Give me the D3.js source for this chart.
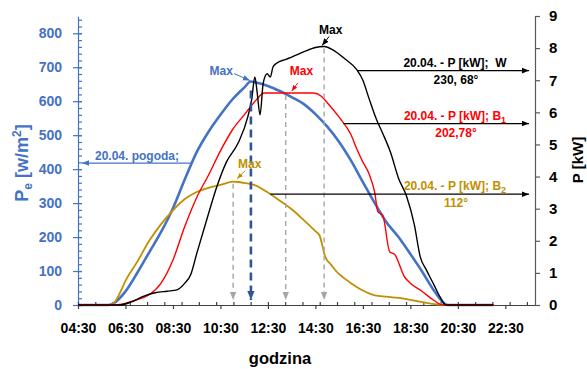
<!DOCTYPE html>
<html>
<head>
<meta charset="utf-8">
<script src="https://cdn.jsdelivr.net/npm/d3@7"></script>
<style>
body { margin: 0; background: #fff; }
svg text { font-family: "Liberation Sans", Arial, sans-serif; font-weight: bold; white-space: pre; }
</style>
</head>
<body>
<svg id="chart" width="587" height="369"></svg>
<script>
// ---- dane ----
// natezenie promieniowania (lewa os, W/m2)
var peTime  = ["4:30","5:45","6:00","6:30","7:00","7:30","8:00","8:30","9:00","9:30","10:00","10:30","11:00","11:30","11:47","12:00","12:30","13:00","13:30","14:00","14:30","15:00","15:30","16:00","16:30","17:00","17:30","18:00","18:30","19:00","19:30","20:05","22:00"];
var peValue = [0,0,5,40,95,155,215,285,370,450,510,560,605,640,658,655,645,630,612,592,562,525,480,425,362,300,243,200,150,98,42,0,0];

// moc W 230, 68 (prawa os, kW)
var wTime  = ["4:30","6:15","6:45","7:15","7:45","8:15","8:40","9:00","9:15","9:30","10:00","10:20","10:45","11:15","11:40","11:49","11:57","12:03","12:10","12:18","12:28","12:36","12:43","12:52","13:15","13:30","14:00","14:30","14:52","15:15","15:45","16:15","16:30","16:45","17:05","17:20","17:40","18:00","18:20","18:40","18:55","19:10","19:30","19:45","20:00","22:00"];
var wValue = [0,0,0.1,0.27,0.38,0.43,0.47,0.68,0.95,1.6,2.85,3.65,4.45,5.05,5.9,6.4,7.1,6.6,5.92,6.9,7.2,7.1,7.42,7.53,7.65,7.72,7.88,8.02,8.05,7.94,7.66,7.32,7.0,6.45,5.76,5.35,4.75,3.95,3.4,2.5,1.5,1.1,0.62,0.25,0,0];

// moc B1 202,78 (prawa os, kW)
var b1Time  = ["4:30","6:05","6:30","7:00","7:30","8:00","8:30","9:00","9:30","10:00","10:30","11:00","11:30","12:00","12:20","14:25","14:45","15:00","15:30","16:00","16:15","16:30","16:45","17:00","17:08","17:20","17:38","17:50","18:15","18:30","19:00","19:30","19:52","22:00"];
var b1Value = [0,0,0.05,0.17,0.32,0.68,1.4,2.45,3.35,4.05,4.8,5.45,5.92,6.38,6.6,6.6,6.5,6.3,5.85,5.3,4.85,4.45,4.1,3.5,2.9,2.8,1.65,1.58,0.88,0.68,0.42,0.14,0,0];

// moc B2 112 (prawa os, kW)
var b2Time  = ["4:30","5:50","6:00","6:15","6:30","7:00","7:30","8:00","8:30","9:00","9:30","10:00","10:30","11:02","11:15","11:30","12:00","12:30","13:00","13:30","14:00","14:30","14:40","14:55","15:10","15:25","15:40","16:00","16:30","17:00","17:30","18:00","18:30","19:00","19:55","22:00"];
var b2Value = [0,0,0.05,0.35,0.75,1.35,2.0,2.52,2.95,3.3,3.52,3.65,3.74,3.84,3.83,3.8,3.72,3.5,3.25,2.98,2.65,2.3,2.18,1.5,1.25,1.02,0.86,0.68,0.45,0.3,0.26,0.22,0.16,0.09,0,0];

var xTickLabels = ["04:30","06:30","08:30","10:30","12:30","14:30","16:30","18:30","20:30","22:30"];
var leftTicks   = [0,100,200,300,400,500,600,700,800];
var rightTicks  = [0,1,2,3,4,5,6,7,8,9];

// chwile maksimum (przerywane linie)
var maxTime   = ["11:02","11:47","13:15","14:52"];
var maxSeries = ["b2","pe","b1","w"];

// poziomy strzalek opisow
var descLevel = [7.3, 5.65, 3.45];   // W, B1, B2 [kW]
var peDescLevel = 418;               // pogoda [W/m2]

// ---- skale ----
var parseT = function(s){ var p = s.split(":"); return +p[0] + (+p[1]) / 60; };

var svg = d3.select("#chart");
var x  = d3.scaleLinear().domain([4.5, 23.75]).range([78, 535]);
var yL = d3.scaleLinear().domain([0, 850]).range([305, 16.3]);
var yR = d3.scaleLinear().domain([0, 9]).range([305, 16]);

var blue = "#4472C4", red = "#FF0000", gold = "#BF9000", navy = "#2F5597", gray = "#A6A6A6";

var series = {
  pe: { t: peTime.map(parseT), v: peValue, y: yL, color: blue, w: 2.6 },
  b2: { t: b2Time.map(parseT), v: b2Value, y: yR, color: gold, w: 1.8 },
  b1: { t: b1Time.map(parseT), v: b1Value, y: yR, color: red,  w: 1.4 },
  w:  { t: wTime.map(parseT),  v: wValue,  y: yR, color: "#000", w: 1.4 }
};

function valueAt(s, t){
  for (var i = 0; i < s.t.length - 1; i++) {
    if (t >= s.t[i] && t <= s.t[i+1]) {
      var f = (t - s.t[i]) / (s.t[i+1] - s.t[i]);
      return s.v[i] + f * (s.v[i+1] - s.v[i]);
    }
  }
  return 0;
}
// czas przeciecia poziomu (rosnaco / malejaco)
function crossing(s, level, falling){
  for (var i = 0; i < s.t.length - 1; i++) {
    var a = s.v[i], b = s.v[i+1];
    if ((falling && a >= level && b < level) || (!falling && a < level && b >= level)) {
      return s.t[i] + (level - a) / (b - a) * (s.t[i+1] - s.t[i]);
    }
  }
  return s.t[0];
}

// ---- strzalki ----
var defs = svg.append("defs");
function arrow(id, color, size){
  defs.append("marker").attr("id", id)
    .attr("viewBox", "0 0 10 10").attr("refX", 10).attr("refY", 5)
    .attr("markerWidth", size).attr("markerHeight", size)
    .attr("markerUnits", "userSpaceOnUse").attr("orient", "auto")
    .append("path").attr("d", "M0,1 L10,5 L0,9 Z").attr("fill", color);
}
arrow("aBlack", "#000", 7);
arrow("aBlue", blue, 7);
arrow("aNavy", navy, 9);
arrow("aGray", gray, 8);
arrow("aRed", red, 6);
arrow("aGold", gold, 6);

// ---- osie ----
// lewa os
var gL = svg.append("g").attr("transform", "translate(78,0)");
gL.call(d3.axisLeft(yL).tickValues(leftTicks).tickSize(5).tickPadding(11).tickSizeOuter(0));
gL.selectAll(".tick line").attr("x1", 4);
gL.append("g").call(d3.axisRight(yL).tickValues(d3.range(0, 851, 20)).tickSize(4).tickFormat("").tickSizeOuter(0))
  .select(".domain").remove();
gL.selectAll("line, path").attr("stroke", blue).attr("stroke-width", 1.2);
gL.selectAll("text").attr("fill", blue).style("font-size", "14px");

// prawa os
var gR = svg.append("g").attr("transform", "translate(535,0)");
gR.call(d3.axisRight(yR).tickValues(rightTicks).tickSize(5).tickPadding(9).tickSizeOuter(0));
gR.selectAll("line, path").attr("stroke", "#595959").attr("stroke-width", 1.2);
gR.selectAll("text").attr("fill", "#000").style("font-size", "15px");

// os x
var gX = svg.append("g").attr("transform", "translate(0,305)");
gX.call(d3.axisBottom(x).tickValues(xTickLabels.map(parseT))
  .tickFormat(function(d, i){ return xTickLabels[i]; })
  .tickSize(4).tickPadding(14).tickSizeOuter(0));
gX.append("g").call(d3.axisTop(x).tickValues(d3.range(4.5, 23.75, 8 / 11)).tickSize(3).tickFormat("").tickSizeOuter(0))
  .select(".domain").remove();
gX.selectAll("line, path").attr("stroke", "#404040").attr("stroke-width", 1.2);
gX.selectAll("text").attr("fill", "#000").style("font-size", "14px");

// tytuly osi
svg.append("text").attr("x", 280).attr("y", 364).attr("text-anchor", "middle")
  .style("font-size", "16.5px").text("godzina");

var tl = svg.append("text").attr("transform", "translate(28,163) rotate(-90)")
  .attr("text-anchor", "middle").attr("fill", blue).style("font-size", "18px");
tl.append("tspan").text("P");
tl.append("tspan").attr("dy", 4).style("font-size", "12px").text("e");
tl.append("tspan").attr("dy", -4).text(" [w/m");
tl.append("tspan").attr("dy", -7).style("font-size", "12px").text("2");
tl.append("tspan").attr("dy", 7).text("]");

svg.append("text").attr("transform", "translate(583,160) rotate(-90)")
  .attr("text-anchor", "middle").style("font-size", "15px").text("P [kW]");

// ---- serie ----
["pe", "b2", "b1", "w"].forEach(function(k){
  var s = series[k];
  var line = d3.line()
    .x(function(d, i){ return x(s.t[i]); })
    .y(function(d){ return s.y(d); })
    .curve(d3.curveMonotoneX);
  svg.append("path").datum(s.v)
    .attr("d", line).attr("fill", "none")
    .attr("stroke", s.color).attr("stroke-width", s.w)
    .attr("stroke-linejoin", "round");
});

// ---- linie maksimum ----
var peaks = maxTime.map(function(tt, i){
  var s = series[maxSeries[i]], t = parseT(tt);
  return { x: x(t), y: s.y(valueAt(s, t)), key: maxSeries[i] };
});
peaks.forEach(function(p){
  var isPe = p.key === "pe";
  svg.append("line")
    .attr("x1", p.x).attr("x2", p.x)
    .attr("y1", p.y + (isPe ? 9 : 2)).attr("y2", 300)
    .attr("stroke", isPe ? navy : gray)
    .attr("stroke-width", isPe ? 2.6 : 1.4)
    .attr("stroke-dasharray", isPe ? "8,5" : "5,4")
    .attr("marker-end", isPe ? "url(#aNavy)" : "url(#aGray)");
});

// napisy "Max"
var maxStyle = {
  pe: { color: blue,   marker: "aBlue",  tx: -18, ty: -7,  ax1: -17, ay1: -8, ax2: -1, ay2: -1, anchor: "end" },
  b1: { color: red,    marker: "aRed",   tx: 4,   ty: -18, ax1: 12,  ay1: -10, ax2: 6, ay2: -2, anchor: "start" },
  w:  { color: "#000", marker: "aBlack", tx: -5,  ty: -13, ax1: 5,   ay1: -10, ax2: -2, ay2: -1, anchor: "start" },
  b2: { color: gold,   marker: "aGold",  tx: 5,   ty: -14, ax1: 12,  ay1: -11, ax2: 4, ay2: -3, anchor: "start" }
};
peaks.forEach(function(p){
  var m = maxStyle[p.key];
  svg.append("text").attr("x", p.x + m.tx).attr("y", p.y + m.ty)
    .attr("text-anchor", m.anchor).attr("fill", m.color)
    .style("font-size", "12px").text("Max");
  svg.append("line")
    .attr("x1", p.x + m.ax1).attr("y1", p.y + m.ay1)
    .attr("x2", p.x + m.ax2).attr("y2", p.y + m.ay2)
    .attr("stroke", m.color).attr("stroke-width", 1)
    .attr("marker-end", "url(#" + m.marker + ")");
});

// ---- opisy serii ----
var desc = [
  { key: "w",  color: "#000", l1: "20.04. - P [kW];\u00A0\u00A0W", sub: "",  l2: "230, 68\u00B0" },
  { key: "b1", color: red,    l1: "20.04. - P [kW]; B",  sub: "1", l2: "202,78\u00B0" },
  { key: "b2", color: gold,   l1: "20.04. - P [kW]; B",  sub: "2", l2: "112\u00B0" }
];
desc.forEach(function(d, i){
  var s = series[d.key], lev = descLevel[i];
  var t0 = crossing(s, lev, true);
  if (d.key === "b2") t0 = crossing({ t: s.t.slice(15), v: s.v.slice(15) }, lev, true);
  var yy = yR(lev);
  svg.append("line").attr("x1", x(t0)).attr("x2", 529)
    .attr("y1", yy).attr("y2", yy)
    .attr("stroke", "#000").attr("stroke-width", 1.3)
    .attr("marker-end", "url(#aBlack)");
  var t1 = svg.append("text").attr("x", 455).attr("y", yy - 4)
    .attr("text-anchor", "middle").attr("fill", d.color).style("font-size", "12px");
  t1.append("tspan").text(d.l1);
  if (d.sub) t1.append("tspan").attr("dy", 3).style("font-size", "9px").text(d.sub);
  svg.append("text").attr("x", 456).attr("y", yy + 13)
    .attr("text-anchor", "middle").attr("fill", d.color).style("font-size", "12px").text(d.l2);
});

// pogoda
var tp = crossing(series.pe, peDescLevel, false);
svg.append("line").attr("x1", x(tp)).attr("x2", 82)
  .attr("y1", yL(peDescLevel)).attr("y2", yL(peDescLevel))
  .attr("stroke", blue).attr("stroke-width", 1.3)
  .attr("marker-end", "url(#aBlue)");
svg.append("text").attr("x", 95).attr("y", yL(peDescLevel) - 3)
  .attr("fill", blue).style("font-size", "12px").text("20.04. pogoda;");
</script>
</body>
</html>
